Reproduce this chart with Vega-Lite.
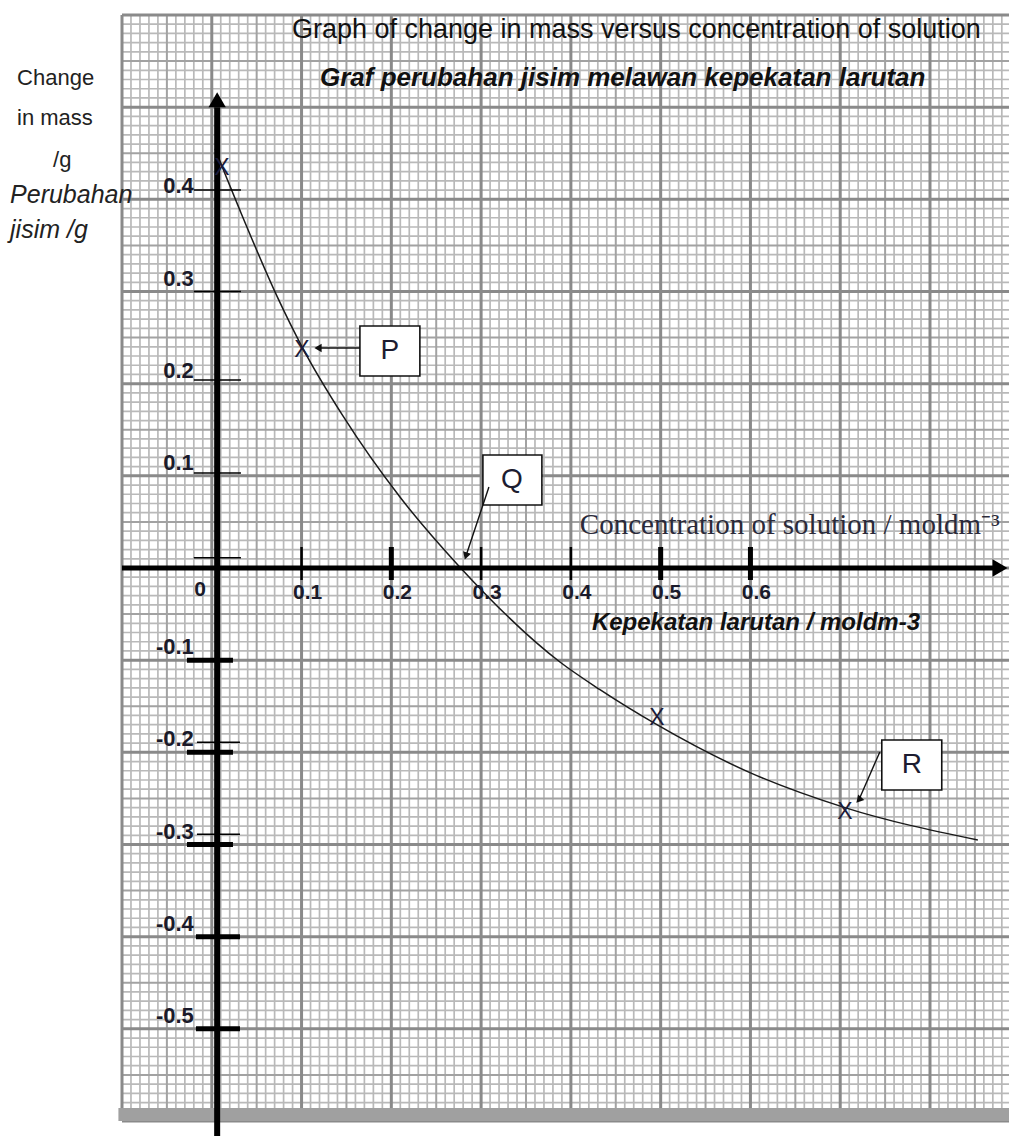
{
  "$schema": "https://vega.github.io/schema/vega-lite/v6.json",
  "width": 887,
  "height": 1106,
  "autosize": {"type": "none"},
  "padding": {"left": 122, "top": 15, "right": 5, "bottom": 15},
  "background": "#ffffff",
  "config": {"view": {"stroke": null}, "axis": {"disable": true}, "legend": {"disable": true}},
  "datasets": {
    "minorX": [-0.09,-0.08,-0.07,-0.06,-0.04,-0.03,-0.02,-0.01,0.01,0.02,0.03,0.04,0.06,0.07,0.08,0.09,0.11,0.12,0.13,0.14,0.16,0.17,0.18,0.19,0.21,0.22,0.23,0.24,0.26,0.27,0.28,0.29,0.31,0.32,0.33,0.34,0.36,0.37,0.38,0.39,0.41,0.42,0.43,0.44,0.46,0.47,0.48,0.49,0.51,0.52,0.53,0.54,0.56,0.57,0.58,0.59,0.61,0.62,0.63,0.64,0.66,0.67,0.68,0.69,0.71,0.72,0.73,0.74,0.76,0.77,0.78,0.79,0.81,0.82,0.83,0.84,0.86,0.87,0.88],
    "minorY": [-0.59,-0.58,-0.57,-0.56,-0.54,-0.53,-0.52,-0.51,-0.49,-0.48,-0.47,-0.46,-0.44,-0.43,-0.42,-0.41,-0.39,-0.38,-0.37,-0.36,-0.34,-0.33,-0.32,-0.31,-0.29,-0.28,-0.27,-0.26,-0.24,-0.23,-0.22,-0.21,-0.19,-0.18,-0.17,-0.16,-0.14,-0.13,-0.12,-0.11,-0.09,-0.08,-0.07,-0.06,-0.04,-0.03,-0.02,-0.01,0.01,0.02,0.03,0.04,0.06,0.07,0.08,0.09,0.11,0.12,0.13,0.14,0.16,0.17,0.18,0.19,0.21,0.22,0.23,0.24,0.26,0.27,0.28,0.29,0.31,0.32,0.33,0.34,0.36,0.37,0.38,0.39,0.41,0.42,0.43,0.44,0.46,0.47,0.48,0.49,0.51,0.52,0.53,0.54,0.56,0.57,0.58,0.59],
    "midX": [-0.05,0.05,0.15,0.25,0.35,0.45,0.55,0.65,0.75,0.85],
    "midY": [-0.55,-0.45,-0.35,-0.25,-0.15,-0.05,0.05,0.15,0.25,0.35,0.45,0.55],
    "majorX": [-0.1,0,0.1,0.2,0.3,0.4,0.5,0.6,0.7,0.8],
    "majorY": [-0.6,-0.5,-0.4,-0.3,-0.2,-0.1,0,0.1,0.2,0.3,0.4,0.5,0.6],
    "curve": [
      {"concentration": 0.0036, "change": 0.455},
      {"concentration": 0.0158, "change": 0.425},
      {"concentration": 0.0314, "change": 0.388},
      {"concentration": 0.0726, "change": 0.295},
      {"concentration": 0.1005, "change": 0.24},
      {"concentration": 0.1461, "change": 0.165},
      {"concentration": 0.2096, "change": 0.077},
      {"concentration": 0.2754, "change": 0.002},
      {"concentration": 0.3878, "change": -0.102},
      {"concentration": 0.4324, "change": -0.132},
      {"concentration": 0.4958, "change": -0.17},
      {"concentration": 0.5994, "change": -0.222},
      {"concentration": 0.7052, "change": -0.26},
      {"concentration": 0.8533, "change": -0.2951}
    ],
    "points": [
      {"concentration": 0.0114, "change": 0.434},
      {"concentration": 0.1005, "change": 0.2365},
      {"concentration": 0.4958, "change": -0.1627},
      {"concentration": 0.7052, "change": -0.2647}
    ]
  },
  "layer": [
    {"data": {"name": "minorX"}, "mark": {"type": "rule", "stroke": "#b9b9b9", "strokeWidth": 1.7},
     "encoding": {"x": {"field": "data", "type": "quantitative", "scale": {"domain": [-0.1, 0.888], "nice": false, "zero": false}}}},
    {"data": {"name": "minorY"}, "mark": {"type": "rule", "stroke": "#b9b9b9", "strokeWidth": 1.7},
     "encoding": {"y": {"field": "data", "type": "quantitative", "scale": {"domain": [-0.6, 0.6], "nice": false, "zero": false}}}},
    {"data": {"name": "midX"}, "mark": {"type": "rule", "stroke": "#a2a2a2", "strokeWidth": 2}, "encoding": {"x": {"field": "data", "type": "quantitative"}}},
    {"data": {"name": "midY"}, "mark": {"type": "rule", "stroke": "#a2a2a2", "strokeWidth": 2}, "encoding": {"y": {"field": "data", "type": "quantitative"}}},
    {"data": {"name": "majorX"}, "mark": {"type": "rule", "stroke": "#8a8a8a", "strokeWidth": 3}, "encoding": {"x": {"field": "data", "type": "quantitative"}}},
    {"data": {"name": "majorY"}, "mark": {"type": "rule", "stroke": "#8a8a8a", "strokeWidth": 3}, "encoding": {"y": {"field": "data", "type": "quantitative"}}},
    {"data": {"values": [{}]}, "mark": {"type": "rect", "fill": "#a0a0a0"},
     "encoding": {"x": {"datum": -0.104, "type": "quantitative"}, "x2": {"datum": 0.888}, "y": {"datum": -0.586, "type": "quantitative"}, "y2": {"datum": -0.6}}},
    {"data": {"name": "curve"}, "mark": {"type": "line", "stroke": "#1a1a1a", "strokeWidth": 1.5, "interpolate": "monotone"},
     "encoding": {"x": {"field": "concentration", "type": "quantitative"}, "y": {"field": "change", "type": "quantitative"}}},
    {"data": {"values": [{}]}, "mark": {"type": "rule", "stroke": "#000000", "strokeWidth": 5},
     "encoding": {"x": {"datum": -0.1, "type": "quantitative"}, "x2": {"datum": 0.872}, "y": {"datum": 0, "type": "quantitative"}}},
    {"data": {"values": [{}]}, "mark": {"type": "point", "shape": "triangle-right", "filled": true, "fill": "#000000", "size": 300, "opacity": 1, "strokeWidth": 0},
     "encoding": {"x": {"datum": 0.878, "type": "quantitative"}, "y": {"datum": 0, "type": "quantitative"}}},
    {"data": {"values": [{}]}, "mark": {"type": "rule", "stroke": "#000000", "strokeWidth": 6},
     "encoding": {"x": {"datum": 0.006, "type": "quantitative"}, "y": {"datum": -0.62, "type": "quantitative"}, "y2": {"datum": 0.5}}},
    {"data": {"values": [{}]}, "mark": {"type": "point", "shape": "triangle-up", "filled": true, "fill": "#000000", "size": 300, "opacity": 1, "strokeWidth": 0},
     "encoding": {"x": {"datum": 0.006, "type": "quantitative"}, "y": {"datum": 0.508, "type": "quantitative"}}},
    {"data": {"values": [{"v": 0.41}, {"v": 0.3}, {"v": 0.204}, {"v": 0.103}, {"v": 0.011}]}, "mark": {"type": "rule", "stroke": "#000000", "strokeWidth": 1.5},
     "encoding": {"x": {"datum": -0.02, "type": "quantitative"}, "x2": {"datum": 0.0325}, "y": {"field": "v", "type": "quantitative"}}},
    {"data": {"values": [{"v": -0.189}, {"v": -0.289}]}, "mark": {"type": "rule", "stroke": "#000000", "strokeWidth": 1.5},
     "encoding": {"x": {"datum": -0.0165, "type": "quantitative"}, "x2": {"datum": 0.0314}, "y": {"field": "v", "type": "quantitative"}}},
    {"data": {"values": [{"v": -0.1}, {"v": -0.2}, {"v": -0.3}]}, "mark": {"type": "rule", "stroke": "#000000", "strokeWidth": 5},
     "encoding": {"x": {"datum": -0.0276, "type": "quantitative"}, "x2": {"datum": 0.0236}, "y": {"field": "v", "type": "quantitative"}}},
    {"data": {"values": [{"v": -0.4}, {"v": -0.5}]}, "mark": {"type": "rule", "stroke": "#000000", "strokeWidth": 5},
     "encoding": {"x": {"datum": -0.0176, "type": "quantitative"}, "x2": {"datum": 0.0314}, "y": {"field": "v", "type": "quantitative"}}},
    {"data": {"values": [{"v": 0.1}, {"v": 0.3}, {"v": 0.4}]}, "mark": {"type": "rule", "stroke": "#000000", "strokeWidth": 2.5},
     "encoding": {"x": {"field": "v", "type": "quantitative"}, "y": {"datum": 0.0228, "type": "quantitative"}, "y2": {"datum": -0.013}}},
    {"data": {"values": [{"v": 0.2}, {"v": 0.5}, {"v": 0.6}]}, "mark": {"type": "rule", "stroke": "#000000", "strokeWidth": 5},
     "encoding": {"x": {"field": "v", "type": "quantitative"}, "y": {"datum": 0.0228, "type": "quantitative"}, "y2": {"datum": -0.013}}},
    {"data": {"values": [{"v": 0.4, "t": "0.4"}, {"v": 0.3, "t": "0.3"}, {"v": 0.2, "t": "0.2"}, {"v": 0.1, "t": "0.1"}, {"v": -0.1, "t": "-0.1"}, {"v": -0.2, "t": "-0.2"}, {"v": -0.3, "t": "-0.3"}, {"v": -0.4, "t": "-0.4"}, {"v": -0.5, "t": "-0.5"}]},
     "mark": {"type": "text", "font": "Liberation Sans", "fontWeight": "bold", "fontSize": 22, "align": "right", "baseline": "middle", "dy": -13, "fill": "#1a1a2a"},
     "encoding": {"x": {"datum": -0.02, "type": "quantitative"}, "y": {"field": "v", "type": "quantitative"}, "text": {"field": "t"}}},
    {"data": {"values": [{"v": 0.1, "t": "0.1"}, {"v": 0.2, "t": "0.2"}, {"v": 0.3, "t": "0.3"}, {"v": 0.4, "t": "0.4"}, {"v": 0.5, "t": "0.5"}, {"v": 0.6, "t": "0.6"}]},
     "mark": {"type": "text", "font": "Liberation Sans", "fontWeight": "bold", "fontSize": 21, "align": "center", "baseline": "middle", "dx": 6, "dy": 25, "fill": "#1a1a2a"},
     "encoding": {"x": {"field": "v", "type": "quantitative"}, "y": {"datum": 0, "type": "quantitative"}, "text": {"field": "t"}}},
    {"data": {"values": [{}]}, "mark": {"type": "text", "text": "0", "font": "Liberation Sans", "fontWeight": "bold", "fontSize": 21, "align": "center", "baseline": "middle", "dy": 22, "fill": "#1a1a2a"},
     "encoding": {"x": {"datum": -0.0131, "type": "quantitative"}, "y": {"datum": 0, "type": "quantitative"}}},
    {"data": {"name": "points"}, "mark": {"type": "text", "text": "X", "font": "Liberation Sans", "fontSize": 23, "align": "center", "baseline": "middle", "fill": "#1c1c3a"},
     "encoding": {"x": {"field": "concentration", "type": "quantitative"}, "y": {"field": "change", "type": "quantitative"}}},
    {"data": {"values": [{"x1": 0.165, "x2": 0.2318, "y1": 0.2626, "y2": 0.2083}, {"x1": 0.302, "x2": 0.3677, "y1": 0.1226, "y2": 0.0684}, {"x1": 0.7463, "x2": 0.8131, "y1": -0.1866, "y2": -0.2408}]},
     "mark": {"type": "rect", "fill": "#ffffff", "stroke": "#111111", "strokeWidth": 1.6},
     "encoding": {"x": {"field": "x1", "type": "quantitative"}, "x2": {"field": "x2"}, "y": {"field": "y1", "type": "quantitative"}, "y2": {"field": "y2"}}},
    {"data": {"values": [{"t": "P", "x": 0.1984, "y": 0.2355}, {"t": "Q", "x": 0.3343, "y": 0.0955}, {"t": "R", "x": 0.7797, "y": -0.2137}]},
     "mark": {"type": "text", "font": "Liberation Sans", "fontSize": 28, "align": "center", "baseline": "middle", "fill": "#1c1c30"},
     "encoding": {"x": {"field": "x", "type": "quantitative"}, "y": {"field": "y", "type": "quantitative"}, "text": {"field": "t"}}},
    {"data": {"values": [{"x1": 0.165, "y1": 0.2387, "x2": 0.1183, "y2": 0.2387}, {"x1": 0.3087, "y1": 0.0879, "x2": 0.2831, "y2": 0.013}, {"x1": 0.7441, "y1": -0.1996, "x2": 0.7207, "y2": -0.2517}]},
     "mark": {"type": "rule", "stroke": "#111111", "strokeWidth": 1.4},
     "encoding": {"x": {"field": "x1", "type": "quantitative"}, "x2": {"field": "x2"}, "y": {"field": "y1", "type": "quantitative"}, "y2": {"field": "y2"}}},
    {"data": {"values": [{}]}, "mark": {"type": "point", "shape": "triangle-left", "filled": true, "fill": "#111111", "size": 70, "opacity": 1, "strokeWidth": 0},
     "encoding": {"x": {"datum": 0.1183, "type": "quantitative"}, "y": {"datum": 0.2387, "type": "quantitative"}}},
    {"data": {"values": [{}]}, "mark": {"type": "point", "shape": "triangle-up", "angle": 198, "filled": true, "fill": "#111111", "size": 70, "opacity": 1, "strokeWidth": 0},
     "encoding": {"x": {"datum": 0.2831, "type": "quantitative"}, "y": {"datum": 0.013, "type": "quantitative"}}},
    {"data": {"values": [{}]}, "mark": {"type": "point", "shape": "triangle-up", "angle": 222, "filled": true, "fill": "#111111", "size": 70, "opacity": 1, "strokeWidth": 0},
     "encoding": {"x": {"datum": 0.7207, "type": "quantitative"}, "y": {"datum": -0.2517, "type": "quantitative"}}},
    {"data": {"values": [{}]}, "mark": {"type": "text", "text": "Graph of change in mass versus concentration of solution", "font": "Liberation Sans", "fontSize": 27, "align": "left", "baseline": "middle", "fill": "#111111"},
     "encoding": {"x": {"datum": 0.0893, "type": "quantitative"}, "y": {"datum": 0.5837, "type": "quantitative"}}},
    {"data": {"values": [{}]}, "mark": {"type": "text", "text": "Graf perubahan jisim melawan kepekatan larutan", "font": "Liberation Sans", "fontSize": 26, "fontWeight": "bold", "fontStyle": "italic", "align": "left", "baseline": "middle", "fill": "#111111"},
     "encoding": {"x": {"datum": 0.1205, "type": "quantitative"}, "y": {"datum": 0.5316, "type": "quantitative"}}},
    {"data": {"values": [{"t": "Change", "x": -0.2169, "y": 0.5316}, {"t": "in mass", "x": -0.2169, "y": 0.4883}, {"t": "/g", "x": -0.1768, "y": 0.4427}]},
     "mark": {"type": "text", "font": "Liberation Sans", "fontSize": 22, "align": "left", "baseline": "middle", "fill": "#222222"},
     "encoding": {"x": {"field": "x", "type": "quantitative"}, "y": {"field": "y", "type": "quantitative"}, "text": {"field": "t"}}},
    {"data": {"values": [{"t": "Perubahan", "x": -0.2247, "y": 0.4047}, {"t": "jisim /g", "x": -0.2247, "y": 0.3667}]},
     "mark": {"type": "text", "font": "Liberation Sans", "fontSize": 25, "fontStyle": "italic", "align": "left", "baseline": "middle", "fill": "#222222"},
     "encoding": {"x": {"field": "x", "type": "quantitative"}, "y": {"field": "y", "type": "quantitative"}, "text": {"field": "t"}}},
    {"data": {"values": [{}]}, "mark": {"type": "text", "text": "Concentration of solution / moldm⁻³", "font": "Liberation Serif", "fontSize": 29, "align": "left", "baseline": "middle", "fill": "#2a2a3a"},
     "encoding": {"x": {"datum": 0.41, "type": "quantitative"}, "y": {"datum": 0.0467, "type": "quantitative"}}},
    {"data": {"values": [{}]}, "mark": {"type": "text", "text": "Kepekatan larutan / moldm-3", "font": "Liberation Sans", "fontSize": 24, "fontWeight": "bold", "fontStyle": "italic", "align": "left", "baseline": "alphabetic", "fill": "#111111"},
     "encoding": {"x": {"datum": 0.4234, "type": "quantitative"}, "y": {"datum": -0.0673, "type": "quantitative"}}}
  ]
}
